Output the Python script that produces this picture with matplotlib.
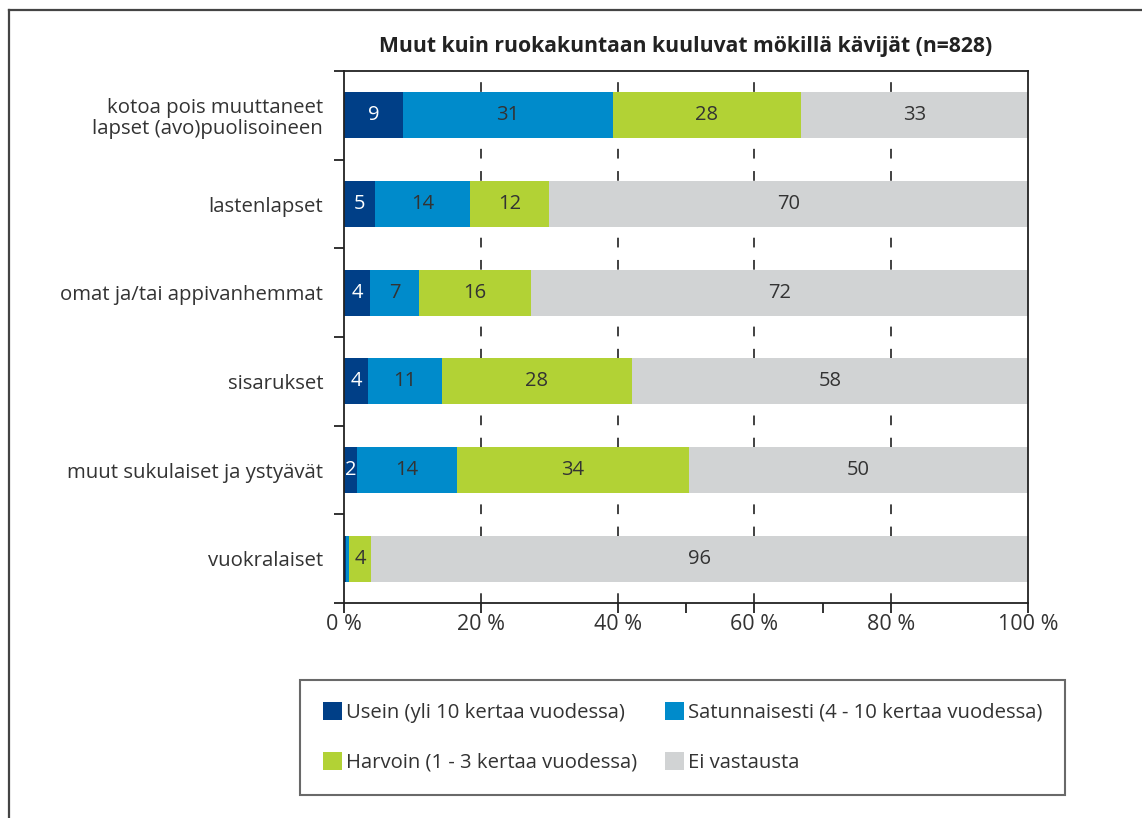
import matplotlib
matplotlib.use("Agg")
import matplotlib.pyplot as plt
from matplotlib.lines import Line2D
from matplotlib.patches import Patch
import numpy as np

plt.rcParams['font.family'] = ['Open Sans', 'DejaVu Sans']
plt.rcParams['lines.scale_dashes'] = False

categories = [
    "kotoa pois muuttaneet\nlapset (avo)puolisoineen",
    "lastenlapset",
    "omat ja/tai appivanhemmat",
    "sisarukset",
    "muut sukulaiset ja ystyävät",
    "vuokralaiset",
]
series_names = [
    "Usein (yli 10 kertaa vuodessa)",
    "Satunnaisesti (4 - 10 kertaa vuodessa)",
    "Harvoin (1 - 3 kertaa vuodessa)",
    "Ei vastausta",
]
usein = [8.6, 4.5, 3.8, 3.5, 1.9, 0.3]
satunnaisesti = [30.7, 13.9, 7.2, 10.8, 14.6, 0.4]
harvoin = [27.5, 11.6, 16.3, 27.8, 33.9, 3.3]
ei_vastausta = [33.2, 70.0, 72.7, 57.9, 49.6, 96.0]

usein_lbl = ["9", "5", "4", "4", "2", ""]
satunnaisesti_lbl = ["31", "14", "7", "11", "14", ""]
harvoin_lbl = ["28", "12", "16", "28", "34", "4"]
ei_lbl = ["33", "70", "72", "58", "50", "96"]

colors = ["#003f87", "#008bcb", "#b2d235", "#d1d3d4"]
text_colors = ["white", "#333333", "#333333", "#333333"]

fig = plt.figure(figsize=(11.42, 8.18), dpi=100)
ax = fig.add_axes([0.3012, 0.2628, 0.599, 0.6504])

y = np.arange(len(categories))
series = [usein, satunnaisesti, harvoin, ei_vastausta]
labels = [usein_lbl, satunnaisesti_lbl, harvoin_lbl, ei_lbl]

# dashed gridlines behind the bars
for gx in [20, 40, 60, 80]:
    ln = ax.axvline(gx, color="#333333", linewidth=1.3, zorder=1)
    ln.set_dashes((7, 9))

left = np.zeros(len(categories))
for vals, lbls, col, tcol in zip(series, labels, colors, text_colors):
    vals = np.array(vals)
    ax.barh(y, vals, left=left, height=0.52, color=col, zorder=2)
    for yi, (l, v, t) in enumerate(zip(left, vals, lbls)):
        if t:
            ax.text(l + v / 2, yi, t, ha="center", va="center",
                    fontsize=14.5, color=tcol, zorder=3)
    left += vals

ax.set_xlim(0, 100)
ax.set_ylim(len(categories) - 0.5, -0.5)

ax.set_xticks([0, 20, 40, 60, 80, 100])
ax.set_xticklabels([f"{v} %" for v in [0, 20, 40, 60, 80, 100]])
ax.set_xticks([50, 70], minor=True)
ax.tick_params(axis="x", which="both", direction="out", length=7, width=1.3,
               color="#222222", labelsize=15.5, labelcolor="#333333", pad=1)

ax.set_yticks(np.arange(-0.5, len(categories), 1.0))
ax.set_yticklabels([])
ax.set_yticks(y, minor=True)
ax.set_yticklabels(categories, minor=True, ha="right", linespacing=1.05)
ax.tick_params(axis="y", which="major", direction="out", length=7, width=1.3,
               color="#222222")
ax.tick_params(axis="y", which="minor", length=0, pad=15, labelsize=14.7,
               labelcolor="#333333")

for sp in ax.spines.values():
    sp.set_color("#222222")
    sp.set_linewidth(1.3)

fig.text(0.6007, 0.943, "Muut kuin ruokakuntaan kuuluvat mökillä kävijät (n=828)",
         ha="center", va="center", fontsize=15.2, fontweight="bold", color="#222222")

handles = [Patch(facecolor=c, edgecolor="none") for c in colors]
order = [0, 2, 1, 3]
leg = fig.legend([handles[i] for i in order], [series_names[i] for i in order],
                 ncol=2, loc="center", bbox_to_anchor=(0.5976, 0.0984),
                 fontsize=14.6, handlelength=0.95, handleheight=0.95,
                 handletextpad=0.2, columnspacing=1.35, labelspacing=1.45,
                 borderpad=1.1, fancybox=False, frameon=True)
leg.get_frame().set_edgecolor("#444444")
leg.get_frame().set_linewidth(1.5)
for t in leg.get_texts():
    t.set_color("#333333")

# outer frame: left and top edges
fig.add_artist(Line2D([9 / 1142, 9 / 1142], [0, 1 - 10 / 818],
                      transform=fig.transFigure, color="#444444", linewidth=1.6))
fig.add_artist(Line2D([9 / 1142, 1], [1 - 10 / 818, 1 - 10 / 818],
                      transform=fig.transFigure, color="#444444", linewidth=1.6))

fig.savefig("out.png", dpi=100)
